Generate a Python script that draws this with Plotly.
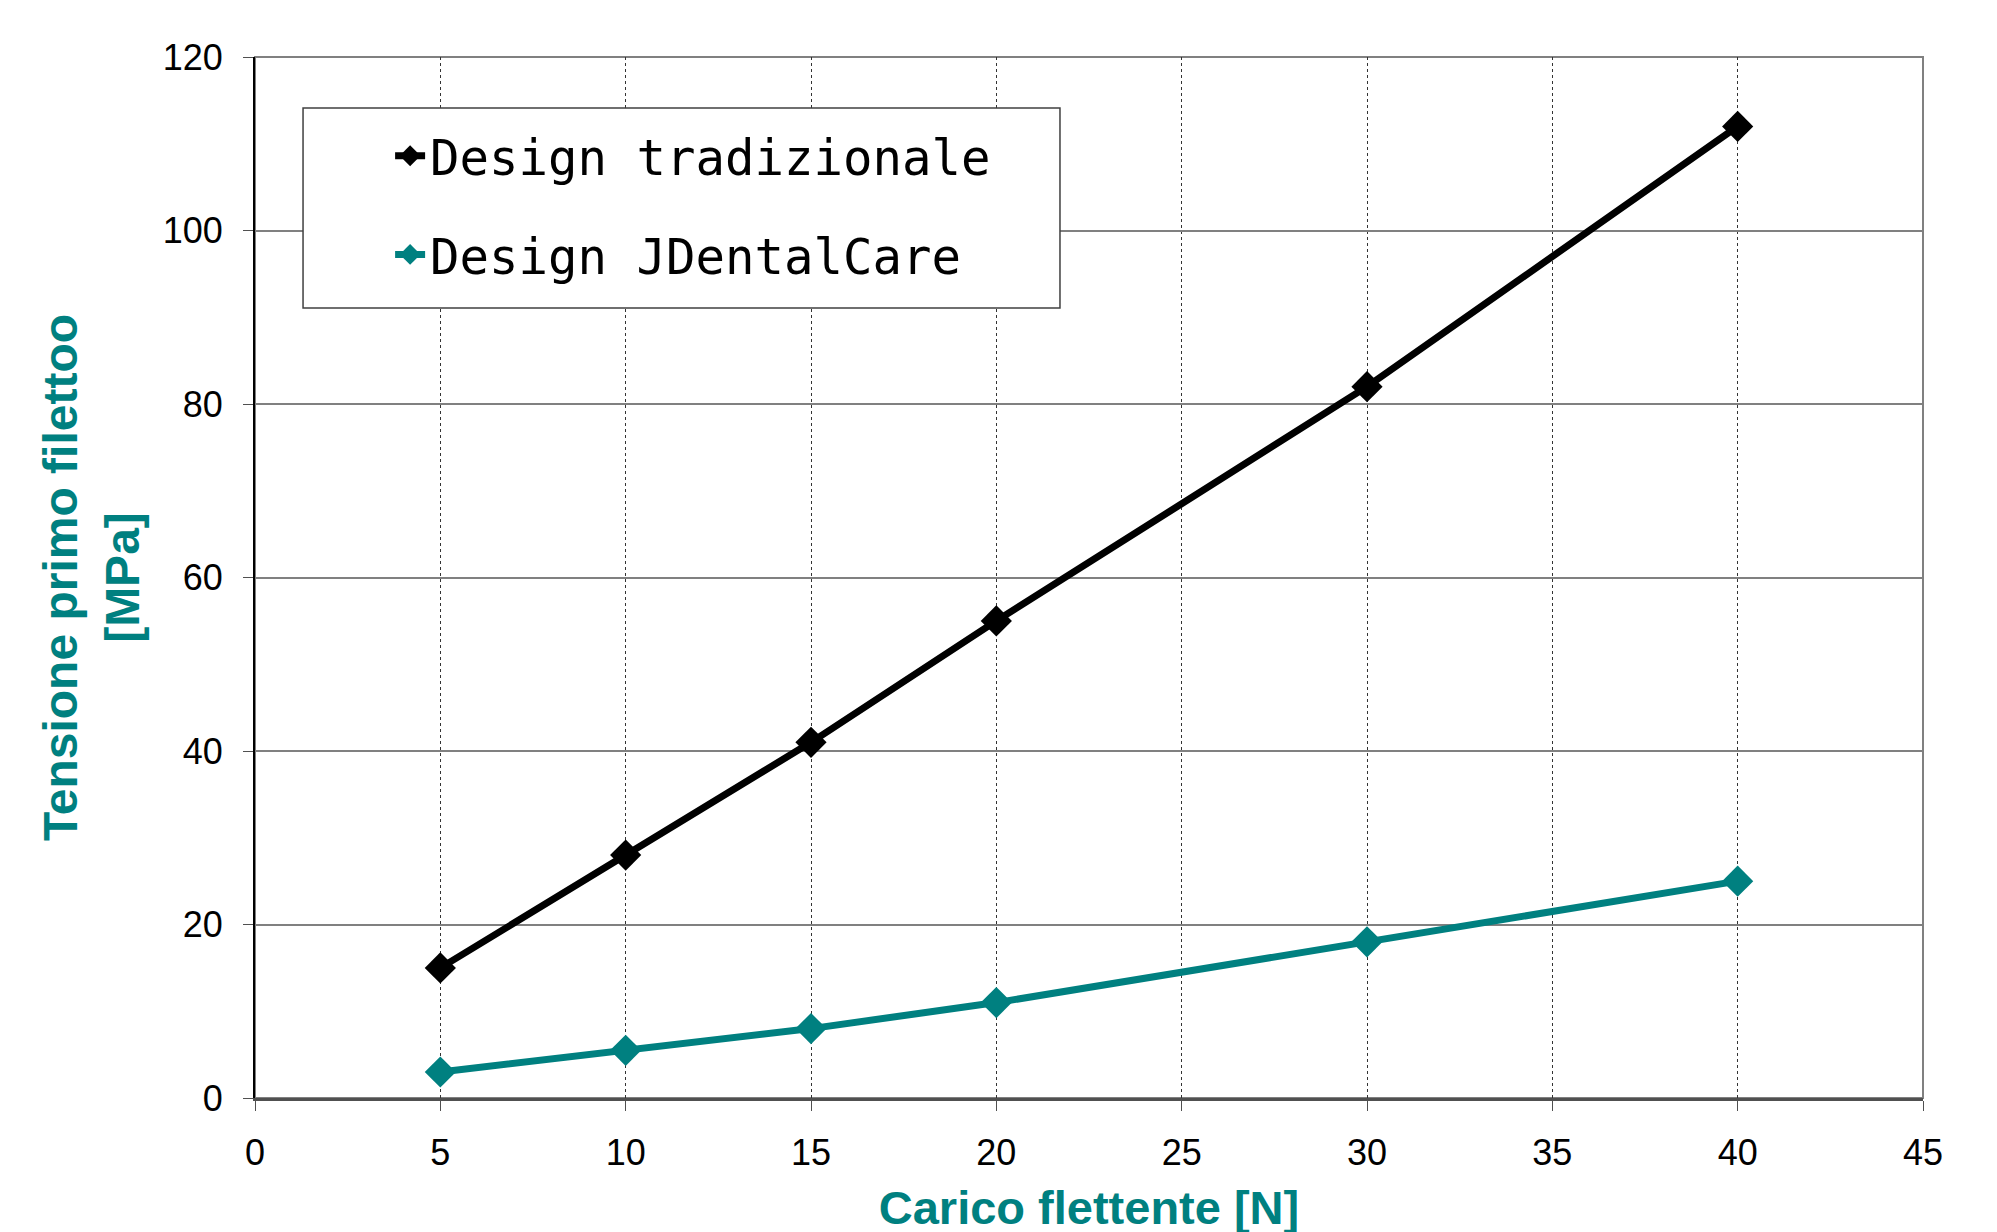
import plotly.graph_objects as go

carico = [5, 10, 15, 20, 30, 40]
tradizionale = [15, 28, 41, 55, 82, 112]
jdentalcare = [3, 5.5, 8, 11, 18, 25]
nome_trad = "Design tradizionale"
nome_jdc = "Design JDentalCare"
x_ticks = [0, 5, 10, 15, 20, 25, 30, 35, 40, 45]
y_ticks = [0, 20, 40, 60, 80, 100, 120]

TEAL = "#008080"
SANS = "Liberation Sans, Arial"

fig = go.Figure()
fig.add_trace(go.Scatter(
    x=carico, y=tradizionale, name=nome_trad, mode="lines+markers",
    line=dict(color="black", width=7),
    marker=dict(symbol="diamond", size=24, color="black"),
    legendgroup="a",
))
fig.add_trace(go.Scatter(
    x=carico, y=jdentalcare, name=nome_jdc, mode="lines+markers",
    line=dict(color=TEAL, width=7),
    marker=dict(symbol="diamond", size=24, color=TEAL),
    legendgroup="b",
))

# plot border (top/right gray)
fig.add_shape(type="rect", xref="paper", yref="paper", x0=0, y0=0, x1=1, y1=1,
              line=dict(color="#808080", width=2), layer="below")
# legend box
fig.add_shape(type="rect", xref="paper", yref="paper", x0=0.0288, y0=0.759, x1=0.4826, y1=0.951,
              line=dict(color="#404040", width=1.5), fillcolor="white", layer="above")

fig.update_layout(
    width=1997, height=1232,
    margin=dict(l=247, r=82, t=49, b=142),
    paper_bgcolor="white", plot_bgcolor="white",
    showlegend=True,
    legend=dict(
        x=0.081, y=0.942, xanchor="left", yanchor="top",
        bgcolor="rgba(0,0,0,0)", borderwidth=0,
        font=dict(family="DejaVu Sans Mono", size=49, color="black"),
        traceorder="grouped", tracegroupgap=32,
        itemwidth=30,
    ),
    xaxis=dict(
        range=[0, 45], tickvals=x_ticks, ticktext=[str(v) for v in x_ticks],
        showgrid=True, gridcolor="#333333", griddash="dot", gridwidth=1,
        showline=True, linecolor="#505050", linewidth=3,
        ticks="outside", ticklen=10, tickcolor="#505050", tickwidth=1,
        tickfont=dict(family=SANS, size=36, color="black"),
        ticklabelstandoff=11,
        zeroline=False,
        title=dict(text="<b>Carico flettente [N]</b>",
                   font=dict(family=SANS, size=47, color=TEAL),
                   standoff=19),
    ),
    yaxis=dict(
        range=[0, 120], tickvals=y_ticks, ticktext=[str(v) for v in y_ticks],
        showgrid=True, gridcolor="#808080", gridwidth=1.5,
        showline=True, linecolor="black", linewidth=2,
        ticks="outside", ticklen=10, tickcolor="#505050", tickwidth=1,
        tickfont=dict(family=SANS, size=36, color="black"),
        ticklabelstandoff=13,
        zeroline=False,
        title=dict(text="<b>Tensione primo filettoo<br>[MPa]</b>",
                   font=dict(family=SANS, size=48, color=TEAL),
                   standoff=8),
    ),
)

fig.write_html("out.html")
